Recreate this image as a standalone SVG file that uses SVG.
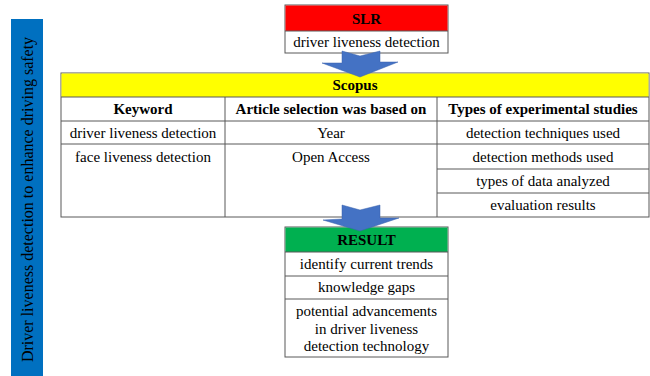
<svg xmlns="http://www.w3.org/2000/svg" width="650" height="376" viewBox="0 0 650 376" font-family="'Liberation Serif', 'DejaVu Serif', serif">
<style>
text{font-family:'Liberation Serif','DejaVu Serif',serif;font-size:15px;fill:#000;text-anchor:middle}
text.side{font-size:16px}
.b{font-weight:bold}
.box{stroke:#595959;stroke-width:1;fill:#fff}
.ln{stroke:#595959;stroke-width:1;fill:none}
.arrow{fill:#4472C4;stroke:#3a62ad;stroke-width:0.5}
</style>
<rect width="650" height="376" fill="#fff"/>
<g id="side">
<rect x="11" y="19" width="32" height="360" fill="#0070C0"/>
<text class="side" transform="translate(33,199.5) rotate(-90)">Driver liveness detection to enhance driving safety</text>
</g>
<g id="slr">
<rect class="box" x="285" y="5" width="163" height="48"/>
<rect x="285.5" y="5.5" width="162" height="25.5" fill="#FF0000"/>
<line class="ln" x1="285" y1="31" x2="448" y2="31"/>
<text class="b" x="366.5" y="23.5">SLR</text>
<text x="366.5" y="47">driver liveness detection</text>
</g>
<g id="scopus">
<rect class="box" x="61" y="73" width="588" height="144"/>
<rect x="61.5" y="73.5" width="587" height="23.5" fill="#FFFF00"/>
<line class="ln" x1="61" y1="97" x2="649" y2="97"/>
<line class="ln" x1="61" y1="121" x2="649" y2="121"/>
<line class="ln" x1="61" y1="144" x2="649" y2="144"/>
<line class="ln" x1="437" y1="169" x2="649" y2="169"/>
<line class="ln" x1="437" y1="193" x2="649" y2="193"/>
<line class="ln" x1="225" y1="97" x2="225" y2="217"/>
<line class="ln" x1="437" y1="97" x2="437" y2="217"/>
<text class="b" x="355" y="90">Scopus</text>
<text class="b" x="143" y="114">Keyword</text>
<text class="b" x="331" y="114">Article selection was based on</text>
<text class="b" x="543" y="114">Types of experimental studies</text>
<text x="143" y="138">driver liveness detection</text>
<text x="331" y="138">Year</text>
<text x="543" y="138">detection techniques used</text>
<text x="143" y="161.5">face liveness detection</text>
<text x="331" y="161.5">Open Access</text>
<text x="543" y="161.5">detection methods used</text>
<text x="543" y="185.5">types of data analyzed</text>
<text x="543" y="209.5">evaluation results</text>
</g>
<g id="result">
<rect class="box" x="285" y="227" width="163" height="130"/>
<rect x="285.5" y="227.5" width="162" height="24.5" fill="#00B050"/>
<line class="ln" x1="285" y1="252" x2="448" y2="252"/>
<line class="ln" x1="285" y1="276" x2="448" y2="276"/>
<line class="ln" x1="285" y1="299" x2="448" y2="299"/>
<text class="b" x="366.5" y="244.5">RESULT</text>
<text x="366.5" y="268.5">identify current trends</text>
<text x="366.5" y="292">knowledge gaps</text>
<text x="366.5" y="316">potential advancements</text>
<text x="366.5" y="333.5">in driver liveness</text>
<text x="366.5" y="351">detection technology</text>
</g>
<g id="connectors">
<polygon class="arrow" points="342,51 360,56 380,51 380,62 398,62 360,77 322,63 342,63"/>
<polygon class="arrow" points="342,205 360,210 380,205 380,218 399,218 360,231 323,220 342,219"/>
</g>
</svg>
